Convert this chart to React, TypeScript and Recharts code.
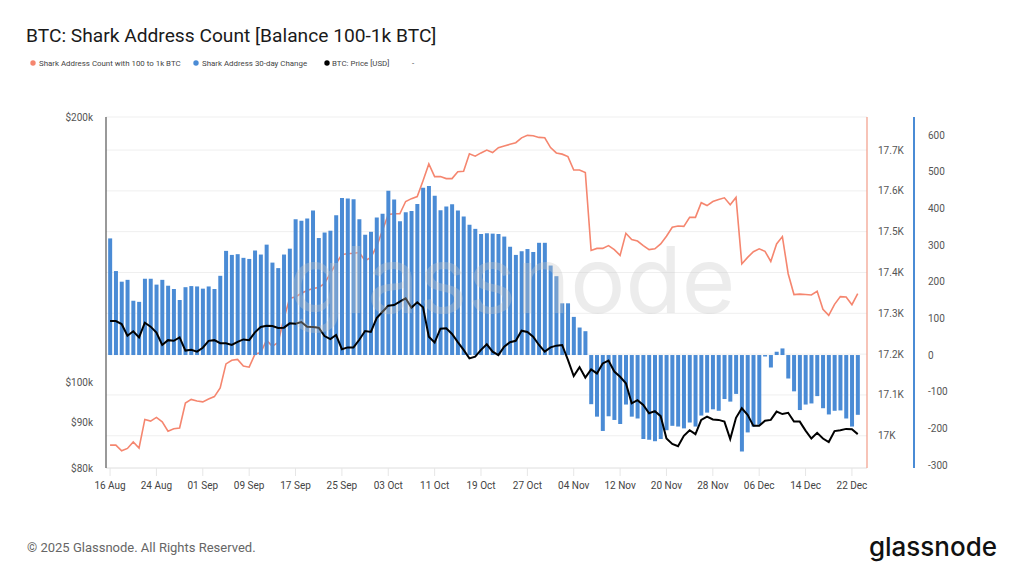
import { ComposedChart, Bar, Line, XAxis, YAxis, CartesianGrid } from 'recharts';

// daily values, 16 Aug .. 23 Dec
const sharkCount = [
  16977, 16977, 16963, 16969, 16985, 16970, 17040, 17036, 17045, 17034,
  17011, 17017, 17019, 17080, 17089, 17085, 17083, 17090, 17096, 17117,
  17176, 17185, 17187, 17171, 17168, 17200, 17204, 17234, 17219, 17229,
  17288, 17337, 17340, 17349, 17356, 17361, 17363, 17373, 17398, 17422,
  17444, 17446, 17447, 17449, 17429, 17437, 17464, 17503, 17542, 17544,
  17544, 17574, 17581, 17586, 17625, 17666, 17635, 17635, 17630, 17630,
  17647, 17648, 17691, 17685, 17693, 17700, 17694, 17706, 17710, 17714,
  17718, 17730, 17736, 17735, 17731, 17730, 17706, 17693, 17690, 17684,
  17651, 17651, 17645, 17454, 17459, 17459, 17466, 17456, 17442, 17496,
  17481, 17477, 17466, 17456, 17458, 17470, 17489, 17511, 17514, 17513,
  17535, 17535, 17571, 17564, 17574, 17579, 17583, 17566, 17584, 17421,
  17437, 17451, 17458, 17452, 17427, 17470, 17488, 17397, 17346, 17347,
  17346, 17345, 17354, 17310, 17295, 17322, 17341, 17340, 17321, 17348,
];

const sharkChange = [
  318, 229, 200, 205, 148, 145, 208, 208, 192, 205,
  189, 180, 150, 185, 188, 187, 181, 187, 180, 216,
  284, 273, 275, 265, 262, 285, 274, 301, 252, 237,
  274, 290, 370, 366, 372, 394, 319, 334, 339, 381,
  428, 427, 425, 370, 328, 336, 375, 385, 448, 424,
  365, 389, 393, 412, 456, 461, 434, 395, 405, 411,
  394, 378, 355, 344, 330, 332, 331, 330, 323, 295,
  273, 283, 289, 281, 306, 306, 244, 215, 141, 141,
  104, 75, 65, -134, -168, -207, -167, -177, -188, -135,
  -168, -173, -229, -231, -235, -229, -205, -193, -195, -200,
  -184, -195, -165, -157, -148, -152, -120, -127, -106, -263,
  -211, -195, -190, -4, -34, 9, 18, -64, -99, -150,
  -135, -132, -112, -145, -162, -152, -151, -173, -195, -163,
];

const btcPrice = [
  117400, 117400, 116500, 113000, 114300, 112500, 116900, 115700, 113900, 110300,
  111700, 111500, 112500, 108700, 108900, 108400, 109500, 111500, 111700, 110800,
  110800, 110300, 111200, 111900, 111700, 114000, 115600, 116000, 115900, 115300,
  115400, 116700, 116600, 117100, 115700, 115600, 115400, 112900, 112000, 113200,
  109100, 109600, 109600, 111800, 114400, 114100, 118300, 120300, 122200, 122400,
  123500, 124600, 121600, 123300, 121700, 112700, 111000, 115100, 115200, 113500,
  111100, 108900, 106500, 107000, 108900, 110500, 108400, 107400, 109800, 111100,
  111500, 114500, 114100, 112700, 110300, 108400, 109600, 110100, 110300, 106100,
  101700, 104100, 101300, 103500, 102400, 105100, 105900, 102900, 101500, 99800,
  94700, 95500, 94300, 92300, 92800, 91600, 86400, 85200, 84700, 87000,
  88300, 87400, 90700, 91500, 90800, 90700, 90300, 86300, 91200, 93500,
  91900, 89300, 89300, 90500, 90700, 92700, 92100, 92400, 90300, 90300,
  88200, 86400, 87700, 86400, 85600, 88100, 88300, 88600, 88500, 87400,
];

const tickDays = [0, 8, 16, 24, 32, 40, 48, 56, 64, 72, 80, 88, 96, 104, 112, 120, 128];
const tickLabels = [
  '16 Aug', '24 Aug', '01 Sep', '09 Sep', '17 Sep', '25 Sep', '03 Oct', '11 Oct', '19 Oct',
  '27 Oct', '04 Nov', '12 Nov', '20 Nov', '28 Nov', '06 Dec', '14 Dec', '22 Dec',
];

const priceTicks = [80000, 90000, 100000, 200000];
const countTicks = [17000, 17100, 17200, 17300, 17400, 17500, 17600, 17700];
const changeTicks = [-300, -200, -100, 0, 100, 200, 300, 400, 500, 600];

const data = sharkCount.map((count, i) => ({
  day: i,
  count,
  change: sharkChange[i],
  price: btcPrice[i],
}));

const ORANGE = '#F5866F';
const BLUE = '#4A8BD5';
const FONT = 'Roboto, sans-serif';
const tickStyle = { fontSize: 10, fill: '#555', fontFamily: FONT };

export default function App() {
  return (
    <div style={{ position: 'absolute', left: 0, top: 0, width: 1024, height: 576, background: '#fff', fontFamily: FONT }}>
      <ComposedChart
        width={1024}
        height={576}
        data={data}
        margin={{ top: 117, right: 50, bottom: 78, left: 0 }}
      >
        <CartesianGrid yAxisId="addr" vertical={false} stroke="#efefef" />
        <XAxis
          dataKey="day"
          type="number"
          domain={[-0.7, 130.6]}
          allowDataOverflow
          ticks={tickDays}
          interval={0}
          tickFormatter={(v: number) => tickLabels[tickDays.indexOf(v)] ?? ''}
          height={30}
          stroke="#e6e6e6"
          tickSize={8}
          tickMargin={6}
          tick={{ ...tickStyle, fill: '#444' }}
        />
        <YAxis
          yAxisId="price"
          orientation="left"
          width={106}
          scale="log"
          domain={[80000, 200000]}
          allowDataOverflow
          ticks={priceTicks}
          interval={0}
          tickFormatter={(v: number) => `$${v / 1000}k`}
          axisLine={{ stroke: '#555', strokeWidth: 1.2 }}
          tickLine={false}
          tickSize={0}
          tickMargin={13}
          tick={tickStyle}
        />
        {/* inner right axis: address count */}
        <YAxis
          yAxisId="addr"
          orientation="right"
          width={47}
          domain={[16921, 17781]}
          allowDataOverflow
          ticks={countTicks}
          interval={0}
          tickFormatter={(v: number) => (v % 1000 === 0 ? `${v / 1000}K` : `${(v / 1000).toFixed(1)}K`)}
          axisLine={{ stroke: '#F29C88', strokeWidth: 1.2 }}
          tickLine={false}
          tickSize={0}
          tickMargin={11}
          tick={tickStyle}
        />
        {/* outer right axis: 30-day change */}
        <YAxis
          yAxisId="delta"
          orientation="right"
          width={60}
          domain={[-308, 649]}
          allowDataOverflow
          ticks={changeTicks}
          interval={0}
          axisLine={{ stroke: BLUE, strokeWidth: 2 }}
          tickLine={false}
          tickSize={0}
          tickMargin={14}
          tick={tickStyle}
        />
        <Line
          yAxisId="addr"
          dataKey="count"
          type="linear"
          stroke={ORANGE}
          strokeWidth={1.6}
          dot={false}
          isAnimationActive={false}
          zIndex={250}
        />
        <Bar yAxisId="delta" dataKey="change" fill={BLUE} barSize={4} isAnimationActive={false} />
        <Line
          yAxisId="price"
          dataKey="price"
          type="linear"
          stroke="#000"
          strokeWidth={2}
          dot={false}
          isAnimationActive={false}
        />
      </ComposedChart>

      <svg
        width={1024}
        height={576}
        style={{ position: 'absolute', left: 0, top: 0, pointerEvents: 'none' }}
      >
        {/* watermark */}
        <text
          x={512}
          y={313}
          textAnchor="middle"
          fontFamily="Inter, sans-serif"
          fontSize={92}
          fill="#c8c8c8"
          fillOpacity={0.35}
        >
          glassnode
        </text>

        <text x={26} y={42} fontSize={19.2} fill="#1a1a1a" fontFamily={FONT}>
          BTC: Shark Address Count [Balance 100-1k BTC]
        </text>

        {/* legend */}
        <g fontSize={7.9} fill="#444" fontFamily={FONT}>
          <circle cx={33} cy={63} r={2.7} fill={ORANGE} />
          <text x={39} y={66}>Shark Address Count with 100 to 1k BTC</text>
          <circle cx={196} cy={63} r={2.7} fill={BLUE} />
          <text x={202} y={66}>Shark Address 30-day Change</text>
          <circle cx={327} cy={63} r={2.7} fill="#000" />
          <text x={332} y={66}>BTC: Price [USD]</text>
          <text x={412} y={66}>-</text>
        </g>

        <text x={27} y={552} fontSize={13} fill="#666" fontFamily={FONT}>
          © 2025 Glassnode. All Rights Reserved.
        </text>
        <text
          x={997}
          y={556}
          textAnchor="end"
          fontSize={26}
          fontWeight={500}
          fill="#111"
          fontFamily="Inter, sans-serif"
        >
          glassnode
        </text>
      </svg>
    </div>
  );
}
